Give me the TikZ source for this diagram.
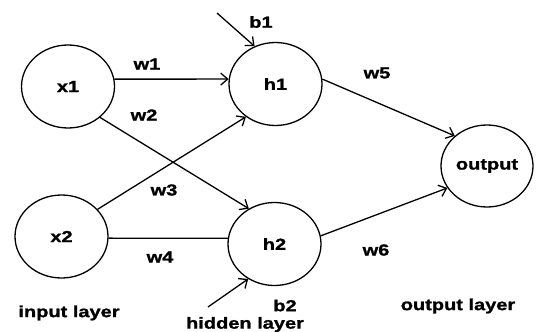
\documentclass[tikz,border=0pt]{standalone}
\usepackage{fontspec}
\newfontfamily\labfont{Liberation Sans}[FakeStretch=1.25,BoldFeatures={FakeBold=1.2}]
\usetikzlibrary{shapes.geometric,arrows.meta}
\tikzset{
  neuron/.style={ellipse,draw,line width=1.3pt,inner sep=0pt,minimum width=93pt,minimum height=83pt,font=\labfont\bfseries\fontsize{16}{16}\selectfont},
  lab/.style={inner sep=0pt,font=\labfont\bfseries\fontsize{16}{16}\selectfont},
  conn/.style={line width=1.3pt,-{Straight Barb[length=7pt,width=12pt,line width=1.3pt]}},
  plain/.style={line width=1.3pt}
}
\begin{document}
\begin{tikzpicture}[x=1pt,y=-1pt]
\useasboundingbox[fill=white] (0,0) rectangle (544,332);
\node[neuron] (x1) at (68,86.5) {x1};
\node[neuron] (x2) at (61.5,236.5) {x2};
\node[neuron] (h1) at (275.5,84) {h1};
\node[neuron] (h2) at (274.5,244) {h2};
\node[neuron,minimum width=92pt,minimum height=82pt] (out) at (487,166) {output};
\coordinate (b1s) at (217,13);
\coordinate (b2s) at (208,307);
\draw[conn] (x1.9) -- (h1.174);
\draw[conn] (x1.-44) -- (h2.126);
\draw[conn] (x2.37) -- (h1.228);
\draw[plain] (x2.-2) -- (h2.173);
\draw[conn] (h1.6) -- (out.137);
\draw[conn] (h2.10) -- (out.209);
\draw[conn] (b1s) -- (h1.119);
\draw[conn] (b2s) -- (h2.233);
\node[lab] (w1) at (147,64) {w1};
\node[lab] (w2) at (144,115) {w2};
\node[lab] (w3) at (164,190) {w3};
\node[lab] (w4) at (160,257) {w4};
\node[lab] (w5) at (377,73) {w5};
\node[lab] (w6) at (376,250) {w6};
\node[lab] (b1) at (261,22) {b1};
\node[lab] (b2) at (285,305.5) {b2};
\node[lab] (il) at (69,313) {input layer};
\node[lab] (hl) at (245,324.5) {hidden layer};
\node[lab] (ol) at (458,306) {output layer};
\end{tikzpicture}
\end{document}
